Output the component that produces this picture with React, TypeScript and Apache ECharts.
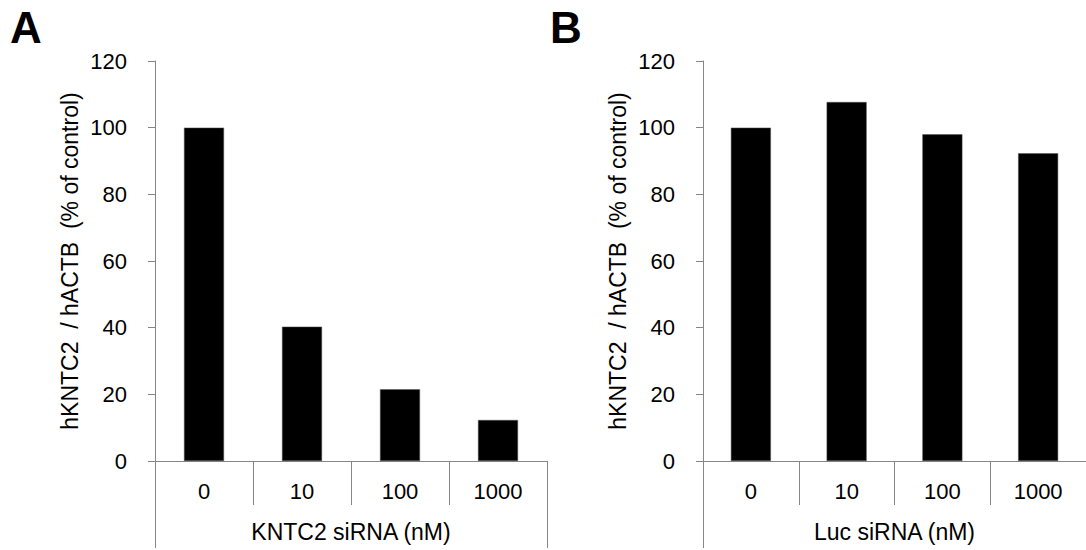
import React, { useEffect, useRef } from "react";
import * as echarts from "echarts";

const categories = ["0", "10", "100", "1000"];
const kntc2Values = [100, 40.3, 21.5, 12.3];
const lucValues = [100, 107.7, 98.0, 92.3];
const panelLabels = ["A", "B"];
const xAxisNames = ["KNTC2 siRNA (nM)", "Luc siRNA (nM)"];
const yAxisName = "hKNTC2 \u00a0/ hACTB \u00a0(% of control)";
const yMin = 0;
const yMax = 120;
const yInterval = 20;

const FONT = '"Liberation Sans", Arial, sans-serif';
const AXIS_COLOR = "#868686";

export default function App() {
  const ref = useRef<HTMLDivElement>(null);

  useEffect(() => {
    if (!ref.current) return;
    const chart = echarts.init(ref.current, undefined, { renderer: "svg" });

    const gridLefts = [155, 703];
    const grids = gridLefts.map((left) => ({ left, top: 61, width: 392, height: 400 }));

    const xAxes: any[] = [];
    const yAxes: any[] = [];
    const series: any[] = [];
    const valuesList = [kntc2Values, lucValues];

    grids.forEach((_, i) => {
      xAxes.push({
        type: "category",
        gridIndex: i,
        data: categories,
        position: "bottom",
        axisLine: { show: true, lineStyle: { color: AXIS_COLOR, width: 1 } },
        axisTick: { show: true, length: 44, lineStyle: { color: AXIS_COLOR, width: 1 } },
        axisLabel: { color: "#000", fontSize: 22, fontFamily: FONT, margin: 19 },
        name: xAxisNames[i],
        nameLocation: "middle",
        nameGap: 59,
        nameTextStyle: { color: "#000", fontSize: 23, fontFamily: FONT },
      });
      // outer boundary lines of the category table
      xAxes.push({
        type: "category",
        gridIndex: i,
        data: [""],
        position: "bottom",
        axisLine: { show: false },
        axisTick: { show: true, length: 87, lineStyle: { color: AXIS_COLOR, width: 1 } },
        axisLabel: { show: false },
      });
      yAxes.push({
        type: "value",
        gridIndex: i,
        min: yMin,
        max: yMax,
        interval: yInterval,
        axisLine: { show: true, lineStyle: { color: AXIS_COLOR, width: 1 } },
        axisTick: { show: true, length: 7, inside: false, lineStyle: { color: AXIS_COLOR, width: 1 } },
        splitLine: { show: false },
        axisLabel: { color: "#000", fontSize: 22, fontFamily: FONT, margin: 28 },
        name: yAxisName,
        nameLocation: "middle",
        nameGap: 74,
        nameRotate: 90,
        nameTextStyle: { color: "#000", fontSize: 23, fontFamily: FONT },
      });
      series.push({
        type: "bar",
        xAxisIndex: i * 2,
        yAxisIndex: i,
        data: valuesList[i],
        barWidth: 40,
        itemStyle: { color: "#000", borderColor: "#555", borderWidth: 0.5 },
      });
    });

    chart.setOption({
      animation: false,
      backgroundColor: "#fff",
      title: panelLabels.map((t, i) => ({
        text: t,
        left: i === 0 ? 10 : 550,
        top: 5,
        padding: 0,
        textStyle: { fontSize: 44, fontWeight: "bold", fontFamily: FONT, color: "#000" },
      })),
      grid: grids,
      xAxis: xAxes,
      yAxis: yAxes,
      series,
    });

    return () => chart.dispose();
  }, []);

  return (
    <div
      ref={ref}
      style={{ position: "fixed", left: 0, top: 0, width: 1086, height: 550, background: "#fff" }}
    />
  );
}
